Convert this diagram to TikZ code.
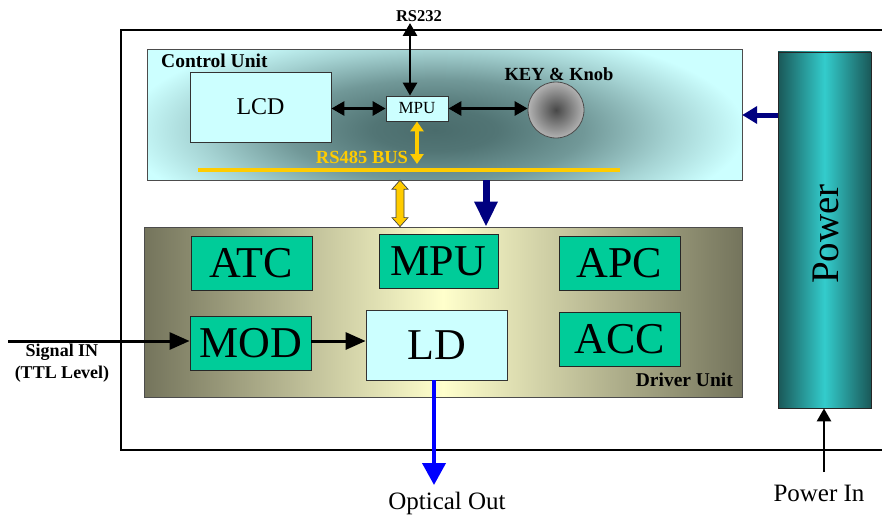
\documentclass[tikz,border=0pt]{standalone}
\usepackage{fontspec}
\setmainfont{Liberation Serif}
\usetikzlibrary{arrows.meta,calc}
\definecolor{cyanL}{HTML}{CCFFFF}
\definecolor{cuDark}{HTML}{4A6C6C}
\definecolor{tealg}{HTML}{00CC99}
\definecolor{amber}{HTML}{FFCC00}
\definecolor{navyA}{HTML}{000080}
\definecolor{blueA}{HTML}{0000FF}
\definecolor{olive}{HTML}{74745C}
\definecolor{yellowL}{HTML}{FFFFCC}
\definecolor{pdark}{HTML}{1A5858}
\definecolor{pbright}{HTML}{33CCCC}
\pgfdeclareradialshading{cushade}{\pgfpoint{0bp}{0bp}}{color(0bp)=(cuDark); color(5bp)=(cuDark!94!cyanL); color(12bp)=(cuDark!70!cyanL); color(19bp)=(cuDark!30!cyanL); color(25bp)=(cyanL); color(50bp)=(cyanL)}
\begin{document}
\begin{tikzpicture}[x=1pt,y=-1pt,
  gbox/.style={draw=black!85, line width=0.9pt, fill=tealg, inner sep=0pt,
    minimum width=121pt, minimum height=54pt, font=\fontsize{44}{48}\selectfont},
  cbox/.style={draw=black!80, line width=0.8pt, fill=cyanL, inner sep=0pt},
  lbl/.style={font=\bfseries\fontsize{18.5}{21}\selectfont, inner sep=0pt},
  blk/.style={line width=2.8pt, black},
]
\useasboundingbox (0,0) rectangle (882,516);

% outer frame
\draw[line width=2.5pt] (890,30) -- (121,30) -- (121,450) -- (890,450);

% control unit
\node[draw=black!70, fill=cyanL, minimum width=594pt, minimum height=130pt, inner sep=0pt] (cu) at (445,115) {};
\begin{scope}
  \clip (cu.south west) rectangle (cu.north east);
  \shade[shading=cushade] (125,25) rectangle (745,235);
\end{scope}
\draw[black!70, line width=0.8pt] (cu.south west) rectangle (cu.north east);
\node[lbl, font=\bfseries\fontsize{19.5}{22}\selectfont, anchor=west] (cul) at (161,61) {Control Unit};
\node[cbox, minimum width=141pt, minimum height=70pt, font=\fontsize{24}{28}\selectfont] (lcd) at (260.5,107) {LCD};
\node[cbox, minimum width=62pt, minimum height=25pt, font=\fontsize{17}{20}\selectfont] (mpu1) at (417,108.5) {MPU};
\node[circle, draw=black!70, line width=0.8pt, minimum size=56pt, inner sep=0pt, inner color=black!72, outer color=black!30] (knob) at (556,110) {};
\node[lbl] (keyl) at (559,74) {KEY \& Knob};
\node[lbl, text=amber] (rs485) at (362,157) {RS485 BUS};
\node[fill=amber, minimum width=422pt, minimum height=4.5pt, inner sep=0pt] (bus) at (409,170) {};
\node[lbl, font=\bfseries\fontsize{16.5}{19}\selectfont] (rs232) at (419,16) {RS232};

\coordinate (rsTop) at (410,23);
\draw[blk, {Triangle[length=13pt,width=14pt]}-{Triangle[length=13pt,width=14pt]}] (rsTop) -- (rsTop |- mpu1.north);
\draw[blk, {Triangle[length=13pt,width=14pt]}-{Triangle[length=13pt,width=14pt]}] (lcd.east |- mpu1.west) -- (mpu1.west);
\draw[blk, {Triangle[length=13pt,width=14pt]}-{Triangle[length=13pt,width=14pt]}] (mpu1.east) -- (knob.west |- mpu1.east);
\coordinate (busArr) at (417,164);
\draw[line width=4pt, amber, {Triangle[length=10pt,width=13pt]}-{Triangle[length=10pt,width=13pt]}] (mpu1.south) -- (busArr);

% driver unit
\node[draw=black!70, line width=0.8pt, minimum width=598pt, minimum height=170pt, inner sep=0pt,
  left color=olive, right color=olive, middle color=yellowL] (du) at (443,312) {};
\node[lbl, font=\bfseries\fontsize{19.5}{22}\selectfont, anchor=east] (dul) at (733,380) {Driver Unit};
\node[gbox] (atc) at (251.5,263.5) {ATC};
\node[gbox, minimum width=119pt] (mpu2) at (438.5,261) {MPU};
\node[gbox] (apc) at (619.5,263) {APC};
\node[gbox] (mod) at (250.5,343) {MOD};
\node[gbox] (acc) at (619.5,339) {ACC};
\node[cbox, minimum width=141pt, minimum height=70pt, font=\fontsize{44}{48}\selectfont] (ld) at (436.5,345) {LD};

% power
\node[draw=black!85, line width=0.8pt, minimum width=93pt, minimum height=356pt, inner sep=0pt,
  left color=pdark, right color=pdark, middle color=pbright] (pwr) at (824.5,230) {};
\node[rotate=90, font=\fontsize{39}{44}\selectfont, inner sep=0pt] (pwrl) at (826,234) {Power};

% links between units
\coordinate (ya) at ($(cu.south)+(-45,0)$);
\coordinate (yb) at ($(du.north)+(-43,0)$);
\draw[fill=amber, draw=black!75, line width=0.7pt, line join=miter]
  (ya) -- ++(8,9) -- ++(-4,0) -- ($(yb)+(4,-9)$) -- ++(4,0) -- (yb) -- ++(-8,-9) -- ++(4,0)
  -- ($(ya)+(-4,9)$) -- ++(-4,0) -- cycle;
\draw[navyA, line width=7pt, -{Triangle[length=25pt,width=22pt]}] ($(cu.south)+(41,0)$) -- ($(du.north)+(43,0)$);
\draw[navyA, line width=5pt, -{Triangle[length=15pt,width=17pt]}] (pwr.west |- cu.east) -- (cu.east);

% inputs / outputs
\coordinate (sigStart) at (8,341);
\draw[blk, line width=3pt, -{Triangle[length=20pt,width=17pt]}] (sigStart) -- (sigStart -| mod.west);
\node[lbl, font=\bfseries\fontsize{18}{22}\selectfont, align=center] (sigl) at (62,363) {Signal IN\\(TTL Level)};
\draw[blk, line width=3pt, -{Triangle[length=20pt,width=17pt]}] (mod.east |- sigStart) -- (ld.west |- sigStart);

\coordinate (optEnd) at (434,485);
\draw[blueA, line width=4pt, -{Triangle[length=22pt,width=23pt]}] (ld.south -| optEnd) -- (optEnd);
\node[font=\fontsize{25}{28}\selectfont, inner sep=0pt] (optl) at (447,503) {Optical Out};

\coordinate (pinStart) at (824,472);
\draw[blk, line width=2.6pt, -{Triangle[length=13pt,width=14pt]}] (pinStart) -- (pinStart |- pwr.south);
\node[font=\fontsize{25}{28}\selectfont, inner sep=0pt] (pinl) at (819,493) {Power In};
\end{tikzpicture}
\end{document}
